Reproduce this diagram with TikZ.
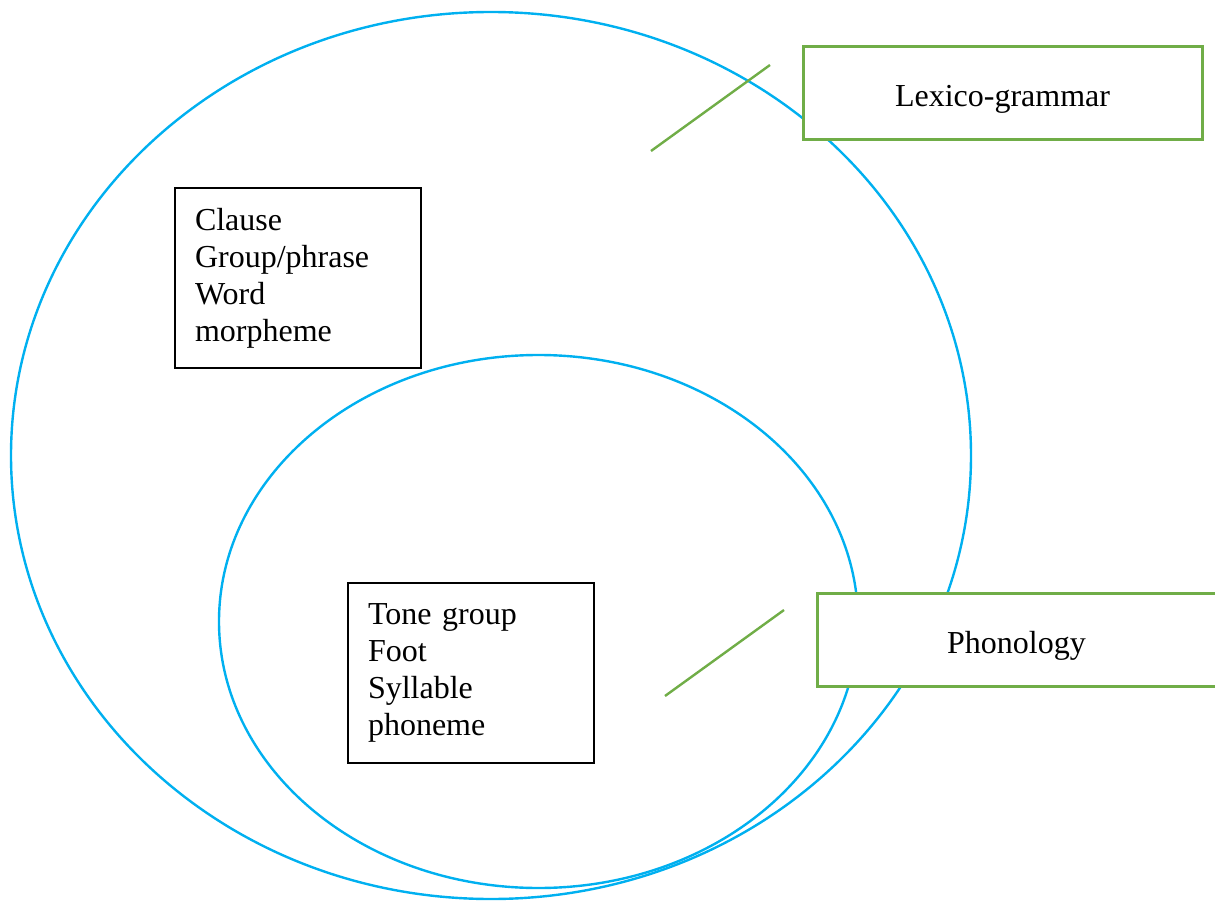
\documentclass[tikz,border=0pt]{standalone}
\usepackage{fontspec}
\setmainfont{Liberation Serif}
\definecolor{ringblue}{HTML}{00B0F0}
\definecolor{tagreen}{HTML}{70AD47}
\newcommand{\taglabel}[1]{\raisebox{-6pt}{#1}}
\begin{document}
\begin{tikzpicture}[x=1pt,y=-1pt,
  ring/.style={draw=ringblue,line width=2.4pt},
  pointer/.style={draw=tagreen,line width=2.4pt},
  tagbox/.style={draw=tagreen,line width=3pt,fill=white,minimum width=399pt,minimum height=93pt,
    inner sep=0pt,text height=22pt,text depth=7pt,font=\fontsize{32}{37}\selectfont},
  rankbox/.style={draw=black,line width=1.3pt,fill=white,minimum width=246pt,minimum height=180pt,
    text width=206pt,inner xsep=20pt,inner ysep=0pt,align=left,font=\fontsize{32}{37}\selectfont}]
\useasboundingbox (0,0) rectangle (1215,901);

% strata as nested ellipses
\draw[ring] (491,455.5) ellipse [x radius=480pt, y radius=443.5pt];
\draw[ring] (538.5,621.5) ellipse [x radius=319.5pt, y radius=266.5pt];

% pointer strokes
\coordinate (l1a) at (651,151);
\coordinate (l1b) at (770,65);
\coordinate (l2a) at (665,696);
\coordinate (l2b) at (784,610);
\draw[pointer] (l1a) -- (l1b);
\draw[pointer] (l2a) -- (l2b);

% stratum labels
\node[tagbox] (lexgram) at (1002.5,93.5) {\taglabel{Lexico-grammar}};
\node[tagbox] (phon) at (1016.5,639.5) {\taglabel{Phonology}};

% rank scales
\node[rankbox] (grammarranks) at (298,278) {Clause\\Group/phrase\\Word\\morpheme};
\node[rankbox] (phonranks) at (471,673) {Tone group\\Foot\\Syllable\\phoneme};
\end{tikzpicture}
\end{document}
